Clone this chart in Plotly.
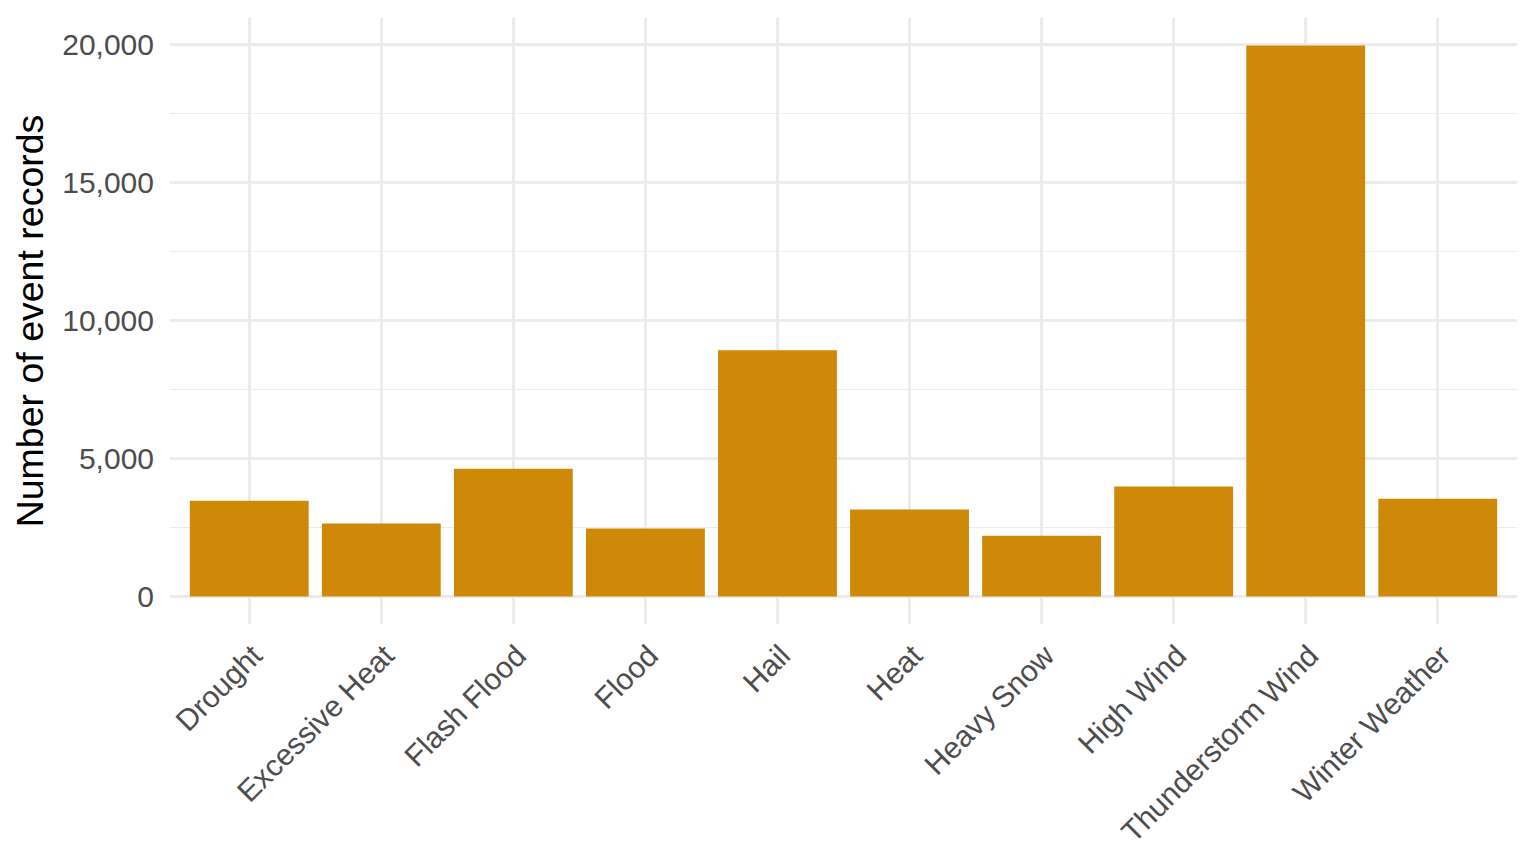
import plotly.graph_objects as go

# event types and record counts
event_types = ["Drought", "Excessive Heat", "Flash Flood", "Flood", "Hail",
               "Heat", "Heavy Snow", "High Wind", "Thunderstorm Wind", "Winter Weather"]
record_counts = [3470, 2640, 4630, 2460, 8920, 3150, 2200, 3980, 19960, 3540]

y_ticks = [0, 5000, 10000, 15000, 20000]
y_ticklabels = ["0", "5,000", "10,000", "15,000", "20,000"]

bar_color = "#CF8908"
grid_color = "#EBEBEB"

fig = go.Figure()

fig.add_trace(go.Bar(
    x=event_types, y=record_counts,
    marker=dict(color=bar_color, line_width=0),
    width=0.9,
))

ymax = max(record_counts)

# the page body adds an 8px offset, margins account for it
fig.update_layout(
    width=1536, height=864,
    paper_bgcolor="white", plot_bgcolor="white",
    margin=dict(l=162, r=27, t=10, b=248),
    showlegend=False,
    font=dict(family="Liberation Sans, Arial, sans-serif", color="#4D4D4D"),
    xaxis=dict(
        range=[-0.6, len(event_types) - 0.4],
        tickangle=-45,
        tickfont=dict(size=30, color="#4D4D4D"),
        showgrid=True, gridcolor=grid_color, gridwidth=2.5,
        zeroline=False, showline=False, ticks="",
        ticklabelstandoff=7,
        ticklabelshift=4,
    ),
    yaxis=dict(
        range=[-0.05 * ymax, 1.05 * ymax],
        tickvals=y_ticks, ticktext=y_ticklabels,
        tickfont=dict(size=30, color="#4D4D4D"),
        showgrid=True, gridcolor=grid_color, gridwidth=2.5,
        minor=dict(dtick=2500, tick0=0, showgrid=True, gridcolor=grid_color, gridwidth=1.3),
        zeroline=False, showline=False, ticks="",
        ticklabelstandoff=15,
        title=dict(text="Number of event records", font=dict(size=37.5, color="black"), standoff=7),
    ),
)

fig.write_html("out.html")
